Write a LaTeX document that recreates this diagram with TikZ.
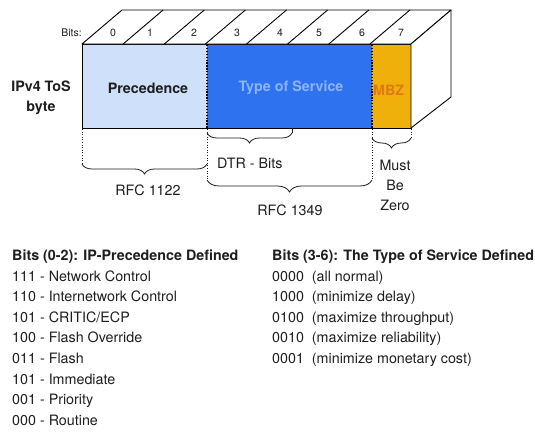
\documentclass[tikz,border=0pt]{standalone}
\usepackage{fontspec}
\setmainfont{TeX Gyre Heros}
\usetikzlibrary{decorations.pathreplacing}

\definecolor{ink}{HTML}{1E1E1E}
\definecolor{precfill}{HTML}{CFE0FA}
\definecolor{tosfill}{HTML}{2E72F0}
\definecolor{tostext}{HTML}{8DB4F6}
\definecolor{mbzfill}{HTML}{F0B00C}
\definecolor{mbztext}{HTML}{E07A10}

\tikzset{
  txt/.style={font=\fontsize{14.3}{16}\selectfont, text=ink, inner sep=0pt},
  btxt/.style={font=\fontsize{14.3}{16}\selectfont\bfseries, text=ink, inner sep=0pt},
  small/.style={font=\fontsize{10.5}{12}\selectfont, text=ink, inner sep=0pt},
  outline/.style={draw=black, line width=0.9pt, line join=round},
  divider/.style={draw=black, line width=1.3pt, dash pattern=on 1.3pt off 1.6pt},
  guide/.style={draw=ink, line width=0.8pt, dash pattern=on 1pt off 1.6pt},
  bracket/.style={draw=ink, line width=0.8pt,
    decorate, decoration={brace, mirror, amplitude=#1}},
}

\begin{document}
\begin{tikzpicture}[x=1pt, y=-1pt]
\useasboundingbox[fill=white] (0,0) rectangle (535,431);

% front face of the byte
\fill[precfill] (82,44) rectangle (207,128);
\fill[tosfill]  (207,44) rectangle (372,128);
\fill[mbzfill]  (372,44) rectangle (411,128);
\draw[divider] (207,45) -- (207,128);
\draw[divider] (372,45) -- (372,128);
\draw[outline] (82,44) rectangle (411,128);

% top face with one cell per bit
\draw[outline, fill=white] (82,44) -- (122,10) -- (451,10) -- (411,44) -- cycle;
\foreach \xa in {123.1,164.3,205.4,246.5,287.6,328.8,369.9}
  \draw[outline] (\xa,44) -- ++(40,-34);

% right-hand face
\draw[outline, fill=white] (411,44) -- (451,10) -- (451,97) -- (411,128) -- cycle;

% bit numbers
\node[small, anchor=east] (bitslbl) at (82,33) {Bits:};
\foreach \k/\xx in {0/113,1/150,2/194,3/237,4/280,5/319,6/362,7/401}
  \node[small] (bit\k) at (\xx,33) {\k};

% field names
\node[btxt, align=center] (ipv4) at (41,98) {IPv4 ToS\\[4pt]byte};
\node[btxt] (prec) at (148,88) {Precedence};
\node[btxt, text=tostext] (tos) at (291,88) {Type of Service};
\node[btxt, text=mbztext, anchor=west] (mbz) at (373,90) {MBZ};

% guide lines below the byte
\draw[guide] (82,129) -- (82,164);
\draw[guide] (207,129) -- (207,180);
\draw[guide] (372,129) -- (372,180);
\draw[guide] (411,129) -- (411,138);
\draw[draw=ink, line width=0.8pt] (292,128) -- (292,133);

% braces
\draw[bracket=10pt] (82,164) -- (207,164);
\draw[bracket=10pt] (207,133) -- (292,133);
\draw[bracket=12pt] (207,180) -- (372,180);
\draw[bracket=10pt] (372,138) -- (411,138);

\node[txt] (rfc1122) at (148,190) {RFC 1122};
\node[txt, anchor=west] (dtr) at (217,163) {DTR - Bits};
\node[txt] (rfc1349) at (290,210) {RFC 1349};
\node[txt, align=center] (mbz2) at (395,185) {Must\\[4pt]Be\\[4pt]Zero};

% precedence values
\node[btxt, anchor=base west] (hprec) at (12,260) {Bits (0-2): IP-Precedence Defined};
\foreach \i/\t in {0/{111 - Network Control}, 1/{110 - Internetwork Control},
                   2/{101 - CRITIC/ECP}, 3/{100 - Flash Override}, 4/{011 - Flash},
                   5/{101 - Immediate}, 6/{001 - Priority}, 7/{000 - Routine}}
  \node[txt, anchor=base west] (p\i) at (12,{281+20.6*\i}) {\t};

% type of service values
\node[btxt, anchor=base west] (htos) at (272,260) {Bits (3-6): The Type of Service Defined};
\foreach \i/\c/\t in {0/0000/all normal, 1/1000/minimize delay,
                      2/0100/maximize throughput, 3/0010/maximize reliability,
                      4/0001/minimize monetary cost}
  \node[txt, anchor=base west] (t\i) at (272,{281+20.6*\i}) {\c\ \ (\t)};
\end{tikzpicture}
\end{document}
